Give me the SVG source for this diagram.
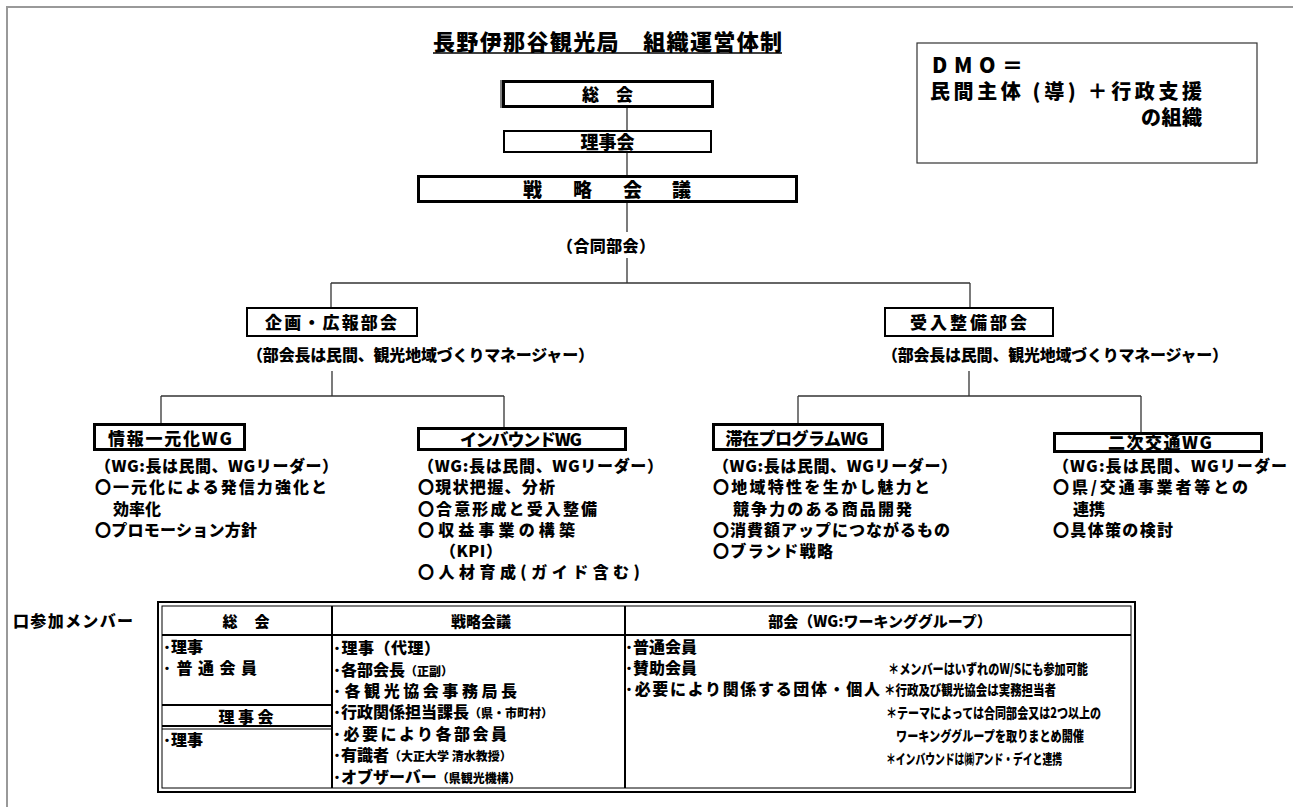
<svg xmlns="http://www.w3.org/2000/svg" width="1293" height="807" viewBox="0 0 1293 807">
<style>
text{font-family:"Noto Sans CJK JP","Noto Sans CJK SC",sans-serif;font-weight:900;fill:#000}
.box{fill:#fff;stroke:#000}
.b3{stroke-width:3}
.b2{stroke-width:2}
.conn line{stroke:#333;stroke-width:1.3}
.f16{font-size:16px}
.f17{font-size:17px}
.f15{font-size:15px}
.f14{font-size:14px}
.s{font-size:12px}
.mid{text-anchor:middle}
.tl line{stroke:#000;stroke-width:2}
</style>
<rect x="7" y="7" width="1300" height="810" fill="none" stroke="#999" stroke-width="2"/>

<g id="title">
<text x="433" y="50" font-size="22" textLength="349">長野伊那谷観光局　組織運営体制</text>
<line x1="433" y1="53" x2="782" y2="53" stroke="#000" stroke-width="1.5"/>
</g>

<g id="dmo">
<rect x="917" y="43" width="340" height="120" fill="#fff" stroke="#333" stroke-width="1.2"/>
<text x="932" y="73" font-size="21" textLength="91">DMO＝</text>
<text x="930" y="99" font-size="20" textLength="272">民間主体 (導) ＋行政支援</text>
<text x="1141" y="125" font-size="20" textLength="61">の組織</text>
</g>

<g id="connectors" class="conn">
<line x1="627" y1="107" x2="627" y2="130"/>
<line x1="627" y1="152" x2="627" y2="175"/>
<line x1="627" y1="203" x2="627" y2="232"/>
<line x1="627" y1="258" x2="627" y2="283"/>
<line x1="331" y1="283" x2="970" y2="283"/>
<line x1="331" y1="283" x2="331" y2="307"/>
<line x1="970" y1="283" x2="970" y2="307"/>
<line x1="332" y1="371" x2="332" y2="396"/>
<line x1="969" y1="371" x2="969" y2="396"/>
<line x1="161" y1="396" x2="504" y2="396"/>
<line x1="798" y1="396" x2="1141" y2="396"/>
<line x1="161" y1="396" x2="161" y2="423"/>
<line x1="504" y1="396" x2="504" y2="427"/>
<line x1="798" y1="396" x2="798" y2="423"/>
<line x1="1141" y1="396" x2="1141" y2="432"/>
<text x="606" y="252" class="f16 mid" textLength="98">（合同部会）</text>
</g>

<g id="soukai">
<rect x="503.5" y="81.5" width="209" height="25" class="box b3"/>
<line x1="501" y1="80" x2="501" y2="108" stroke="#000" stroke-width="1"/>
<text x="607.5" y="101" class="f17 mid">総　会</text>
</g>
<g id="rijikai">
<rect x="504" y="131" width="207" height="21" class="box b2"/>
<text x="607.5" y="149" font-size="18" class="mid">理事会</text>
</g>
<g id="senryaku">
<rect x="418.5" y="176.5" width="378" height="25" class="box b3"/>
<text y="197" font-size="19" x="523 573 623 672">戦略会議</text>
</g>

<g id="kikaku">
<rect x="247" y="308" width="170" height="28" class="box b2"/>
<text x="331" y="329" class="f17 mid" textLength="132">企画・広報部会</text>
<text x="247" y="361" class="f16" textLength="347">（部会長は民間、観光地域づくりマネージャー）</text>
</g>
<g id="ukeire">
<rect x="885" y="308" width="168" height="28" class="box b2"/>
<text x="968.5" y="329" class="f17 mid" textLength="117">受入整備部会</text>
<text x="882" y="361" class="f16" textLength="346">（部会長は民間、観光地域づくりマネージャー）</text>
</g>

<g id="wg-joho" class="f16">
<rect x="94.5" y="424.5" width="150" height="25" class="box b3"/>
<text x="170" y="445" class="mid" font-size="17" textLength="124">情報一元化WG</text>
<text x="95" y="472" textLength="243">（WG:長は民間、WGリーダー）</text>
<text x="95" y="493" textLength="232">〇一元化による発信力強化と</text>
<text x="113" y="514.5">効率化</text>
<text x="95" y="536" textLength="162">〇プロモーション方針</text>
</g>
<g id="wg-inbound" class="f16">
<rect x="418.5" y="428.5" width="207" height="21" class="box b3"/>
<text x="521" y="446" class="mid" font-size="17" textLength="122">インバウンドWG</text>
<text x="418" y="472" textLength="245">（WG:長は民間、WGリーダー）</text>
<text x="418" y="493" textLength="137">〇現状把握、分析</text>
<text x="418" y="514.5" textLength="179">〇合意形成と受入整備</text>
<text x="418" y="536" textLength="157">〇収益事業の構築</text>
<text x="440" y="557" textLength="62">（KPI）</text>
<text x="418" y="578" textLength="222">〇人材育成(ガイド含む)</text>
</g>
<g id="wg-taizai" class="f16">
<rect x="713.5" y="424.5" width="169" height="25" class="box b3"/>
<text x="797" y="445" class="mid" font-size="17" textLength="143">滞在プログラムWG</text>
<text x="713" y="472" textLength="244">（WG:長は民間、WGリーダー）</text>
<text x="713" y="493" textLength="217">〇地域特性を生かし魅力と</text>
<text x="733" y="514.5" textLength="179">競争力のある商品開発</text>
<text x="713" y="536" textLength="237">〇消費額アップにつながるもの</text>
<text x="713" y="557" textLength="120">〇ブランド戦略</text>
</g>
<g id="wg-niji" class="f16">
<rect x="1054.5" y="433.5" width="207" height="18" class="box b3"/>
<text x="1160" y="449" class="mid" font-size="17" textLength="104">二次交通WG</text>
<text x="1053" y="472" textLength="234">（WG:長は民間、WGリーダー</text>
<text x="1053" y="493" textLength="195">〇県/交通事業者等との</text>
<text x="1073" y="514.5">連携</text>
<text x="1053" y="536" textLength="120">〇具体策の検討</text>
</g>

<g id="members">
<text x="13" y="627" class="f16" textLength="120">口参加メンバー</text>
<rect x="158" y="602" width="977" height="190" fill="#fff" stroke="#000" stroke-width="2"/>
<rect x="162" y="606" width="969" height="182" fill="none" stroke="#000" stroke-width="1"/>
<g class="tl">
<line x1="332" y1="606" x2="332" y2="788"/>
<line x1="625" y1="606" x2="625" y2="788"/>
<line x1="162" y1="635" x2="1131" y2="635"/>
<line x1="162" y1="705" x2="332" y2="705"/>
<line x1="162" y1="726" x2="332" y2="726"/>
</g>
<line x1="162" y1="729" x2="332" y2="729" stroke="#000" stroke-width="1"/>
<text x="246" y="627" class="f15 mid" textLength="47">総　会</text>
<text x="481" y="627" class="f15 mid">戦略会議</text>
<text x="880" y="627" class="f15 mid">部会（WG:ワーキンググループ）</text>

<text x="163" y="653" class="f16">･理事</text>
<text x="163" y="674" class="f16" textLength="94">･普通会員</text>
<text x="246" y="723" class="f16 mid" textLength="55">理事会</text>
<text x="163" y="746" class="f16">･理事</text>

<g class="f16">
<text x="333" y="654" textLength="107">･理事（代理）</text>
<text x="333" y="675.5">･各部会長<tspan class="s">（正副）</tspan></text>
<text x="333" y="697" textLength="184">･各観光協会事務局長</text>
<text x="333" y="718">･行政関係担当課長<tspan class="s">（県・市町村）</tspan></text>
<text x="333" y="740" textLength="174">･必要により各部会員</text>
<text x="333" y="761">･有識者<tspan class="s">（大正大学 清水教授）</tspan></text>
<text x="333" y="783">･オブザーバー<tspan class="s">（県観光機構）</tspan></text>
</g>

<g class="f16">
<text x="625" y="653">･普通会員</text>
<text x="625" y="674">･賛助会員</text>
<text x="625" y="695" textLength="255">･必要により関係する団体・個人</text>
</g>
<g class="f14">
<text x="888" y="674" textLength="200" lengthAdjust="spacingAndGlyphs">＊メンバーはいずれのW/Sにも参加可能</text>
<text x="884" y="695" textLength="172" lengthAdjust="spacingAndGlyphs">＊行政及び観光協会は実務担当者</text>
<text x="886" y="718" textLength="215" lengthAdjust="spacingAndGlyphs">＊テーマによっては合同部会又は2つ以上の</text>
<text x="896" y="741" textLength="188" lengthAdjust="spacingAndGlyphs">ワーキンググループを取りまとめ開催</text>
<text x="886" y="764" textLength="176" lengthAdjust="spacingAndGlyphs">＊インバウンドは㈱アンド・デイと連携</text>
</g>
</g>
</svg>
